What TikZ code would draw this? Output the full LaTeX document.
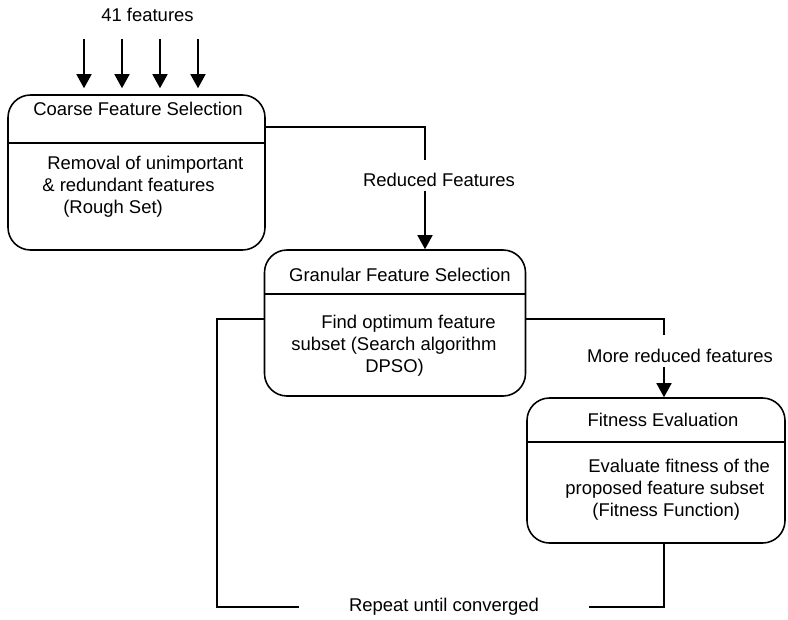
\documentclass[tikz,border=0pt]{standalone}
\usepackage{fontspec}
\setmainfont{Liberation Sans}
\usetikzlibrary{arrows.meta}

\begin{document}
\begin{tikzpicture}[font=\fontsize{10.5pt}{12.5pt}\selectfont,
        line/.style={line width=0.9pt},
        flow/.style={line width=0.9pt, -{Triangle[width=0.30cm,length=0.28cm]}},
        stage/.style={draw, line width=0.9pt, rounded corners=0.45cm, inner sep=0},
        txt/.style={inner sep=0},
        body/.style={inner sep=0, anchor=west, align=left}]
        \useasboundingbox (0,0) rectangle (15.76,-12.38);

        % the three stages
        \node[stage, minimum width=5.14cm, minimum height=3.10cm] (coarse) at (2.73,-3.45) {};
        \node[stage, minimum width=5.22cm, minimum height=2.92cm] (granular) at (7.90,-6.46) {};
        \node[stage, minimum width=5.16cm, minimum height=2.90cm] (fitness) at (13.12,-9.41) {};

        \draw[line] (coarse.west |- 0,-2.86) -- (coarse.east |- 0,-2.86);
        \draw[line] (granular.west |- 0,-5.88) -- (granular.east |- 0,-5.88);
        \draw[line] (fitness.west |- 0,-8.84) -- (fitness.east |- 0,-8.84);

        \node[txt] (coarseTitle) at (2.76,-2.17) {Coarse Feature Selection};
        \node[body] (coarseBody) at (0.84,-3.74) {\hspace*{0.1cm}Removal of unimportant\\ \& redundant features\\ \hspace*{0.42cm}(Rough Set)};

        \node[txt] (granularTitle) at (8.00,-5.50) {Granular Feature Selection};
        \node[body] (granularBody) at (5.82,-6.92) {\hspace*{0.6cm}Find optimum feature\\ subset (Search algorithm\\ \hspace*{1.48cm}DPSO)};

        \node[txt] (fitnessTitle) at (13.26,-8.40) {Fitness Evaluation};
        \node[body] (fitnessBody) at (11.30,-9.80) {\hspace*{0.46cm}Evaluate fitness of the\\ proposed feature subset\\ \hspace*{0.54cm}(Fitness Function)};

        % input features
        \node[txt] (inLabel) at (2.95,-0.30) {41 features};
        \foreach \x [count=\i] in {1.68,2.44,3.20,3.96} {
                \coordinate (in\i) at (\x,-0.78);
                \draw[flow, shorten >=0.12cm] (in\i) -- (in\i |- coarse.north);
        }

        % coarse -> granular
        \coordinate (rfTop) at (8.50,-3.20);
        \coordinate (rfBot) at (8.50,-3.82);
        \node[txt] (reduced) at (8.78,-3.60) {Reduced Features};
        \draw[line] (coarse.east |- 0,-2.54) -| (rfTop);
        \draw[flow] (rfBot) -- (rfBot |- granular.north);

        % granular -> fitness
        \coordinate (mrTop) at (13.28,-6.70);
        \coordinate (mrBot) at (13.28,-7.34);
        \node[txt] (moreReduced) at (13.60,-7.12) {More reduced features};
        \draw[line] (granular.east |- 0,-6.38) -| (mrTop);
        \draw[flow] (mrBot) -- (mrBot |- fitness.north);

        % feedback loop
        \coordinate (loopCorner) at (4.34,-6.38);
        \node[txt, inner xsep=1cm] (repeat) at (8.88,-12.14) {Repeat until converged};
        \draw[line] (mrTop |- fitness.south) |- (repeat.east);
        \draw[line] (repeat.west) -| (loopCorner) -- (loopCorner -| granular.west);
\end{tikzpicture}
\end{document}
